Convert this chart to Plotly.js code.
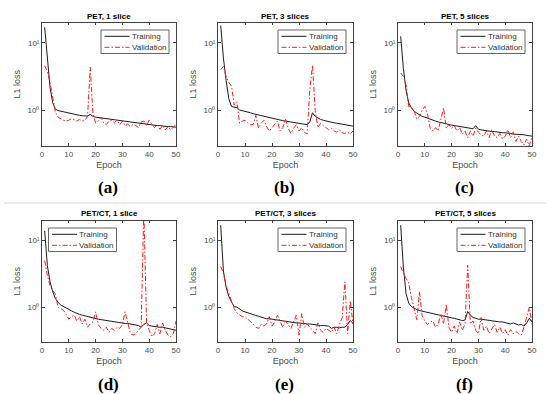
<!DOCTYPE html>
<html>
<head>
<meta charset="utf-8">
<script src="https://cdn.plot.ly/plotly-3.0.1.min.js"></script>
<style>html,body{margin:0;padding:0;background:#fff;}#chart{width:550px;height:394px;}</style>
</head>
<body>
<div id="chart"></div>
<script>
// ---------------- DATA ----------------
const epochs = [1,2,3,4,5,6,7,8,9,10,11,12,13,14,15,16,17,18,19,20,21,22,23,24,25,26,27,28,29,30,31,32,33,34,35,36,37,38,39,40,41,42,43,44,45,46,47,48,49,50];

const panelTitles = ["PET, 1 slice", "PET, 3 slices", "PET, 5 slices", "PET/CT, 1 slice", "PET/CT, 3 slices", "PET/CT, 5 slices"];
const panelLetters = ["(a)", "(b)", "(c)", "(d)", "(e)", "(f)"];
const seriesNames = ["Training", "Validation"];
const xTickVals = [0, 10, 20, 30, 40, 50];
const yTickVals = [1, 10];
const yTickText = ["10\u2070", "10\u00B9"];

const trainA = [17,5.5,2.2,1.3,1.05,1.0,0.98,0.96,0.94,0.9, 0.89,0.88,0.86,0.85,0.84,0.84,0.83,0.88,0.82,0.8, 0.79,0.78,0.76,0.75,0.74,0.73,0.72,0.72,0.71,0.70, 0.69,0.69,0.68,0.67,0.66,0.65,0.64,0.64,0.63,0.62, 0.61,0.61,0.6,0.6,0.59,0.59,0.58,0.58,0.57,0.57];
const valA   = [4.6,3.8,2.6,1.6,0.95,0.8,0.75,0.72,0.71,0.72, 0.76,0.72,0.7,0.74,0.7,0.72,0.82,4.4,0.9,0.66, 0.7,0.8,0.66,0.62,0.7,0.72,0.66,0.72,0.62,0.7, 0.6,0.63,0.58,0.62,0.6,0.56,0.68,0.7,0.6,0.72, 0.62,0.56,0.62,0.53,0.6,0.52,0.58,0.52,0.57,0.62];

const trainB = [18,6,2.8,1.5,1.15,1.12,1.1,1.02,1.0,0.98, 0.95,0.93,0.9,0.88,0.85,0.84,0.82,0.8,0.79,0.77, 0.76,0.74,0.72,0.71,0.7,0.69,0.68,0.67,0.66,0.66, 0.64,0.64,0.62,0.68,0.93,0.82,0.77,0.74,0.72,0.7, 0.69,0.68,0.66,0.65,0.64,0.63,0.62,0.61,0.6,0.59];
const valB   = [4.0,4.5,3.2,2.6,2.3,1.2,1.35,0.65,0.7,0.72, 0.66,0.62,0.62,0.85,0.55,0.65,0.72,0.58,0.5,0.56, 0.62,0.7,0.5,0.56,0.75,0.55,0.46,0.55,0.62,0.5, 0.56,0.48,0.45,2.0,4.7,1.0,0.56,0.65,0.6,0.56, 0.52,0.55,0.5,0.48,0.52,0.47,0.46,0.48,0.45,0.5];

const trainC = [12.5,4.2,2.0,1.3,1.1,0.98,0.92,0.86,0.82,0.8, 0.77,0.74,0.72,0.7,0.68,0.67,0.66,0.64,0.62,0.61, 0.6,0.59,0.58,0.57,0.56,0.55,0.55,0.54,0.6,0.53, 0.52,0.51,0.5,0.5,0.49,0.49,0.48,0.48,0.47,0.47, 0.47,0.46,0.45,0.45,0.44,0.44,0.44,0.43,0.43,0.42];
const valC   = [3.6,3.2,2.4,1.15,1.1,1.0,0.75,0.82,1.0,1.15, 0.9,0.55,0.5,0.56,0.5,0.75,1.1,0.55,0.62,0.55, 0.6,0.5,0.56,0.45,0.5,0.4,0.5,0.42,0.55,0.48, 0.44,0.42,0.5,0.4,0.52,0.42,0.4,0.46,0.38,0.42, 0.52,0.4,0.48,0.35,0.42,0.35,0.31,0.38,0.3,0.42];

const trainD = [14,4.2,2.4,1.7,1.35,1.18,1.08,1.02,0.96,0.92, 0.88,0.84,0.8,0.78,0.76,0.74,0.72,0.7,0.68,0.67, 0.66,0.65,0.64,0.63,0.62,0.61,0.6,0.6,0.59,0.58, 0.57,0.57,0.56,0.55,0.54,0.53,0.5,0.55,0.58,0.53, 0.52,0.51,0.5,0.5,0.5,0.49,0.48,0.46,0.45,0.45];
const valD   = [5.0,3.0,2.1,1.8,1.55,1.0,0.95,0.9,0.78,0.66, 0.72,0.76,0.62,0.72,0.56,0.66,0.5,0.56,0.6,0.85, 0.55,0.48,0.45,0.5,0.42,0.48,0.45,0.5,0.48,0.55, 0.85,0.55,0.4,0.38,0.4,0.45,0.5,30,0.6,0.45, 0.36,0.4,0.55,0.4,0.58,0.45,0.38,0.36,0.4,0.62];

const trainE = [17,3.5,2.0,1.45,1.2,1.02,1.0,0.93,0.88,0.85, 0.82,0.79,0.77,0.75,0.73,0.71,0.69,0.67,0.67,0.66, 0.65,0.65,0.63,0.62,0.61,0.6,0.6,0.59,0.58,0.58, 0.57,0.57,0.56,0.56,0.55,0.55,0.54,0.53,0.53,0.52, 0.52,0.48,0.5,0.5,0.49,0.5,0.5,0.55,0.63,0.57];
const valE   = [4.1,3.2,2.1,1.6,1.3,0.95,0.82,0.76,0.72,0.72, 0.66,0.62,0.56,0.5,0.48,0.55,0.52,0.56,0.72,0.52, 0.6,0.76,0.6,0.5,0.62,0.55,0.48,0.6,0.76,0.38, 0.8,0.5,0.56,0.5,0.45,0.4,0.58,0.45,0.42,0.48, 0.45,0.42,0.5,0.4,0.55,0.7,2.4,0.4,1.25,0.55];

const trainF = [17,4.0,1.6,1.15,1.02,0.96,0.92,0.89,0.87,0.86, 0.84,0.82,0.8,0.78,0.76,0.75,0.73,0.72,0.7,0.69, 0.68,0.66,0.65,0.63,0.64,0.86,0.76,0.7,0.68,0.66, 0.66,0.65,0.64,0.63,0.62,0.62,0.61,0.6,0.6,0.59, 0.57,0.56,0.58,0.56,0.54,0.55,0.52,0.58,0.68,0.6];
const valF   = [4.1,3.2,2.7,2.3,1.4,1.0,0.65,1.7,0.75,0.62, 0.55,0.6,0.62,0.5,0.56,0.8,0.56,1.1,0.5,0.42, 0.52,0.4,0.6,0.45,0.56,4.3,0.56,0.62,0.45,0.4, 0.7,0.45,0.52,0.4,0.46,0.55,0.42,0.5,0.4,0.46, 0.38,0.46,0.4,0.43,0.4,0.38,0.5,0.72,1.0,0.55];

const trainSeries = [trainA, trainB, trainC, trainD, trainE, trainF];
const valSeries   = [valA, valB, valC, valD, valE, valF];

// ---------------- LAYOUT (pixel geometry) ----------------
const W = 550, H = 394;
const colX = [[42, 176], [218, 353], [398, 532]];
const rowY = [[22.5, 146], [220.5, 342]];
const titleY = [16, 213];
const letterY = [187, 384];
const legendLeft = [false, false, false, true, false, false];
const px = x => x / W;
const py = y => 1 - y / H;

const font = "Liberation Sans, Arial, sans-serif";
const axisColor = "#404040";
const tickColor = "#4a4a4a";

const data = [];
const layout = {
  width: W, height: H,
  margin: {l: 0, r: 0, t: 0, b: 0},
  paper_bgcolor: "#fff", plot_bgcolor: "#fff",
  showlegend: false,
  font: {family: font, color: tickColor, size: 8},
  shapes: [], annotations: []
};

// separator line between the two rows of panels
layout.shapes.push({type: "line", xref: "paper", yref: "paper", x0: px(4), x1: px(546), y0: py(203), y1: py(203), line: {color: "#d9d9d9", width: 1}});

for (let i = 0; i < 6; i++) {
  const r = Math.floor(i / 3), c = i % 3;
  const xs = i === 0 ? "" : String(i + 1);
  const xk = "x" + xs, yk = "y" + xs;
  const [l, rr] = colX[c];
  const [t, b] = rowY[r];

  data.push({x: epochs, y: trainSeries[i], xaxis: xk, yaxis: yk, type: "scatter", mode: "lines", name: seriesNames[0],
    line: {color: "#1a1a1a", width: 1}, hoverinfo: "skip"});
  data.push({x: epochs, y: valSeries[i], xaxis: xk, yaxis: yk, type: "scatter", mode: "lines", name: seriesNames[1],
    line: {color: "#ff1a1a", width: 1, dash: "5px,2px,1.5px,2px"}, hoverinfo: "skip"});

  layout["xaxis" + xs] = {
    domain: [px(l), px(rr)], anchor: yk, range: [0, 50],
    tickvals: xTickVals, ticks: "inside", ticklen: 3, tickwidth: 0.8, tickcolor: axisColor,
    showline: true, mirror: "ticks", linecolor: axisColor, linewidth: 0.8,
    showgrid: false, zeroline: false,
    tickfont: {family: font, size: 8, color: tickColor},
    title: {text: "Epoch", font: {family: font, size: 9, color: tickColor}, standoff: 4}
  };
  layout["yaxis" + xs] = {
    domain: [py(b), py(t)], anchor: xk, type: "log",
    range: [Math.log10(0.3), Math.log10(20)],
    tickvals: yTickVals, ticktext: yTickText,
    ticks: "inside", ticklen: 3, tickwidth: 0.8, tickcolor: axisColor,
    showline: true, mirror: "ticks", linecolor: axisColor, linewidth: 0.8,
    showgrid: false, zeroline: false,
    tickfont: {family: font, size: 8, color: tickColor},
    title: {text: "L1 loss", font: {family: font, size: 9, color: tickColor}, standoff: 5}
  };

  // panel title
  layout.annotations.push({xref: "paper", yref: "paper", x: px((l + rr) / 2), y: py(titleY[r]), xanchor: "center", yanchor: "middle",
    text: "<b>" + panelTitles[i] + "</b>", showarrow: false, font: {family: font, size: 8, color: "#000"}});
  // panel letter
  layout.annotations.push({xref: "paper", yref: "paper", x: px((l + rr) / 2 - 1), y: py(letterY[r]), xanchor: "center", yanchor: "middle",
    text: "<b>" + panelLetters[i] + "</b>", showarrow: false, font: {family: "Liberation Serif, Times New Roman, serif", size: 17, color: "#000"}});

  // legend box (drawn in paper space)
  const lw = 68, lh = 23.5;
  const lx0 = legendLeft[i] ? l + 6.5 : rr - 7 - lw;
  const ly0 = t + 7.5;
  layout.shapes.push({type: "rect", xref: "paper", yref: "paper", x0: px(lx0), x1: px(lx0 + lw), y0: py(ly0), y1: py(ly0 + lh),
    line: {color: axisColor, width: 0.8}, fillcolor: "#fff", layer: "above"});
  const rowsY = [ly0 + 6.3, ly0 + 17.3];
  const lineStyles = [{color: "#1a1a1a", width: 1}, {color: "#ff1a1a", width: 1, dash: "5px,2px,1.5px,2px"}];
  for (let k = 0; k < 2; k++) {
    layout.shapes.push({type: "line", xref: "paper", yref: "paper", x0: px(lx0 + 3.5), x1: px(lx0 + 28.5), y0: py(rowsY[k]), y1: py(rowsY[k]),
      line: lineStyles[k], layer: "above"});
    layout.annotations.push({xref: "paper", yref: "paper", x: px(lx0 + 28.8), y: py(rowsY[k]), xanchor: "left", yanchor: "middle",
      text: seriesNames[k], showarrow: false, font: {family: font, size: 8, color: "#333"}});
  }
}

Plotly.newPlot("chart", data, layout, {displayModeBar: false});
</script>
</body>
</html>
